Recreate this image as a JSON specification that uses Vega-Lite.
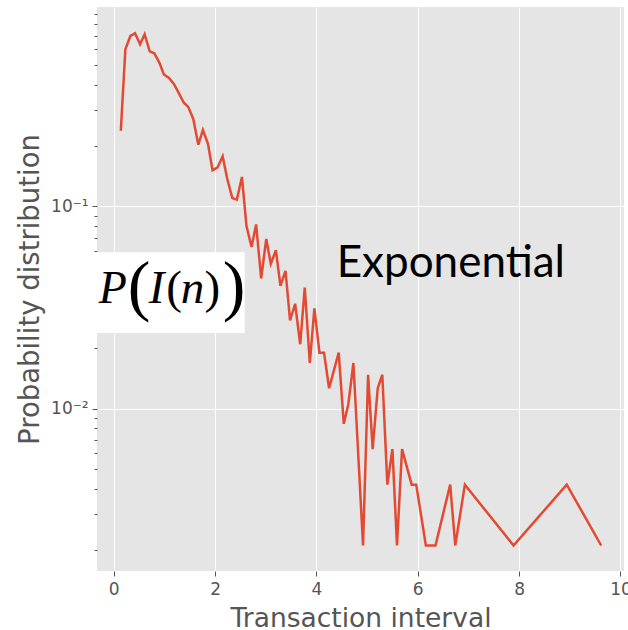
{
  "$schema": "https://vega.github.io/schema/vega-lite/v6.json",
  "width": 527,
  "height": 564,
  "autosize": {"type": "none"},
  "padding": {"left": 97, "top": 7, "right": 4, "bottom": 59},
  "background": "white",
  "config": {"view": {"fill": "#E5E5E5", "stroke": null}},
  "layer": [
    {
      "data": {"values": [
        {"interval": 0.14, "probability": 0.237},
        {"interval": 0.23, "probability": 0.600},
        {"interval": 0.33, "probability": 0.698},
        {"interval": 0.42, "probability": 0.719},
        {"interval": 0.52, "probability": 0.635},
        {"interval": 0.61, "probability": 0.711},
        {"interval": 0.71, "probability": 0.586},
        {"interval": 0.80, "probability": 0.573},
        {"interval": 0.90, "probability": 0.515},
        {"interval": 0.99, "probability": 0.450},
        {"interval": 1.09, "probability": 0.432},
        {"interval": 1.19, "probability": 0.403},
        {"interval": 1.28, "probability": 0.366},
        {"interval": 1.38, "probability": 0.327},
        {"interval": 1.47, "probability": 0.311},
        {"interval": 1.57, "probability": 0.271},
        {"interval": 1.67, "probability": 0.202},
        {"interval": 1.76, "probability": 0.239},
        {"interval": 1.86, "probability": 0.204},
        {"interval": 1.95, "probability": 0.151},
        {"interval": 2.05, "probability": 0.156},
        {"interval": 2.15, "probability": 0.177},
        {"interval": 2.24, "probability": 0.137},
        {"interval": 2.34, "probability": 0.110},
        {"interval": 2.43, "probability": 0.108},
        {"interval": 2.53, "probability": 0.140},
        {"interval": 2.62, "probability": 0.080},
        {"interval": 2.72, "probability": 0.063},
        {"interval": 2.81, "probability": 0.0815},
        {"interval": 2.91, "probability": 0.044},
        {"interval": 3.01, "probability": 0.069},
        {"interval": 3.10, "probability": 0.052},
        {"interval": 3.20, "probability": 0.0607},
        {"interval": 3.29, "probability": 0.0405},
        {"interval": 3.39, "probability": 0.048},
        {"interval": 3.48, "probability": 0.0273},
        {"interval": 3.58, "probability": 0.033},
        {"interval": 3.68, "probability": 0.0208},
        {"interval": 3.77, "probability": 0.0397},
        {"interval": 3.87, "probability": 0.0168},
        {"interval": 3.96, "probability": 0.0313},
        {"interval": 4.06, "probability": 0.0189},
        {"interval": 4.15, "probability": 0.0189},
        {"interval": 4.25, "probability": 0.0126},
        {"interval": 4.44, "probability": 0.0189},
        {"interval": 4.54, "probability": 0.0084},
        {"interval": 4.63, "probability": 0.0105},
        {"interval": 4.73, "probability": 0.0168},
        {"interval": 4.92, "probability": 0.0021},
        {"interval": 5.02, "probability": 0.0147},
        {"interval": 5.11, "probability": 0.0063},
        {"interval": 5.21, "probability": 0.0126},
        {"interval": 5.30, "probability": 0.0147},
        {"interval": 5.40, "probability": 0.0042},
        {"interval": 5.50, "probability": 0.0063},
        {"interval": 5.59, "probability": 0.0021},
        {"interval": 5.69, "probability": 0.0063},
        {"interval": 5.88, "probability": 0.0042},
        {"interval": 5.97, "probability": 0.0042},
        {"interval": 6.16, "probability": 0.0021},
        {"interval": 6.35, "probability": 0.0021},
        {"interval": 6.64, "probability": 0.0042},
        {"interval": 6.74, "probability": 0.0021},
        {"interval": 6.93, "probability": 0.0042},
        {"interval": 7.89, "probability": 0.0021},
        {"interval": 8.94, "probability": 0.0042},
        {"interval": 9.62, "probability": 0.0021}
      ]},
      "mark": {"type": "line", "color": "#E24A33", "strokeWidth": 2.5},
      "encoding": {
        "x": {
          "field": "interval", "type": "quantitative",
          "scale": {"domain": [-0.33, 10.07], "nice": false, "zero": false},
          "axis": {
            "values": [0, 2, 4, 6, 8, 10], "format": "d",
            "domain": false, "grid": true, "gridColor": "white", "gridWidth": 1,
            "tickColor": "#555555", "tickSize": 5, "tickWidth": 1,
            "labelFont": "DejaVu Sans", "labelFontSize": 17, "labelColor": "#555555",
            "labelPadding": 5, "labelFlush": false, "labelOverlap": false,
            "title": "Transaction interval", "titleFont": "DejaVu Sans", "titleFontSize": 26.5,
            "titleFontWeight": "normal", "titleColor": "#555555", "titleY": 55, "titleBaseline": "alphabetic"
          }
        },
        "y": {
          "field": "probability", "type": "quantitative",
          "scale": {"type": "log", "domain": [0.0015704, 0.97051], "nice": false},
          "axis": {
            "values": [0.002, 0.003, 0.004, 0.005, 0.006, 0.007, 0.008, 0.009, 0.01, 0.02, 0.03, 0.04, 0.05, 0.06, 0.07, 0.08, 0.09, 0.1, 0.2, 0.3, 0.4, 0.5, 0.6, 0.7, 0.8, 0.9],
            "labelExpr": "datum.value == 0.1 ? '10⁻¹' : (datum.value == 0.01 ? '10⁻²' : '')",
            "domain": false, "grid": true, "gridColor": "white", "gridWidth": 1,
            "gridOpacity": {"condition": {"test": "datum.value == 0.1 || datum.value == 0.01", "value": 1}, "value": 0},
            "tickSize": {"condition": {"test": "datum.value == 0.1 || datum.value == 0.01", "value": 5}, "value": 3},
            "tickColor": "#555555", "tickWidth": 1,
            "labelFont": "DejaVu Sans", "labelFontSize": 17, "labelColor": "#555555",
            "labelPadding": 4, "labelOverlap": false,
            "title": "Probability distribution", "titleFont": "DejaVu Sans", "titleFontSize": 27.5,
            "titleFontWeight": "normal", "titleColor": "#555555", "titleX": -59, "titleBaseline": "alphabetic"
          }
        }
      }
    },
    {
      "data": {"values": [{}]},
      "mark": {"type": "rect", "color": "white", "opacity": 1},
      "encoding": {
        "x": {"datum": -0.7, "type": "quantitative"},
        "x2": {"datum": 2.585},
        "y": {"datum": 0.0593, "type": "quantitative"},
        "y2": {"datum": 0.02362}
      }
    },
    {
      "data": {"values": [{}]},
      "mark": {"type": "text", "text": "P", "font": "Liberation Serif", "fontStyle": "italic", "fontSize": 46, "align": "left", "baseline": "alphabetic", "color": "black"},
      "encoding": {"x": {"datum": -0.296, "type": "quantitative"}, "y": {"datum": 0.03322, "type": "quantitative"}}
    },
    {
      "data": {"values": [{}]},
      "mark": {"type": "text", "text": "(", "font": "Liberation Serif", "fontSize": 68, "align": "left", "baseline": "alphabetic", "color": "black"},
      "encoding": {"x": {"datum": 0.276, "type": "quantitative"}, "y": {"datum": 0.03139, "type": "quantitative"}}
    },
    {
      "data": {"values": [{}]},
      "mark": {"type": "text", "text": "I", "font": "Liberation Serif", "fontStyle": "italic", "fontSize": 47, "align": "left", "baseline": "alphabetic", "color": "black"},
      "encoding": {"x": {"datum": 0.69, "type": "quantitative"}, "y": {"datum": 0.03322, "type": "quantitative"}}
    },
    {
      "data": {"values": [{}]},
      "mark": {"type": "text", "text": "(", "font": "Liberation Serif", "fontSize": 47, "align": "left", "baseline": "alphabetic", "color": "black"},
      "encoding": {"x": {"datum": 1.035, "type": "quantitative"}, "y": {"datum": 0.03322, "type": "quantitative"}}
    },
    {
      "data": {"values": [{}]},
      "mark": {"type": "text", "text": "n", "font": "Liberation Serif", "fontStyle": "italic", "fontSize": 47, "align": "left", "baseline": "alphabetic", "color": "black"},
      "encoding": {"x": {"datum": 1.321, "type": "quantitative"}, "y": {"datum": 0.03322, "type": "quantitative"}}
    },
    {
      "data": {"values": [{}]},
      "mark": {"type": "text", "text": ")", "font": "Liberation Serif", "fontSize": 47, "align": "left", "baseline": "alphabetic", "color": "black"},
      "encoding": {"x": {"datum": 1.789, "type": "quantitative"}, "y": {"datum": 0.03322, "type": "quantitative"}}
    },
    {
      "data": {"values": [{}]},
      "mark": {"type": "text", "text": ")", "font": "Liberation Serif", "fontSize": 68, "align": "left", "baseline": "alphabetic", "color": "black"},
      "encoding": {"x": {"datum": 2.150, "type": "quantitative"}, "y": {"datum": 0.03139, "type": "quantitative"}}
    },
    {
      "data": {"values": [{}]},
      "mark": {"type": "text", "text": "Exponential", "font": "Lato", "fontSize": 44, "align": "left", "baseline": "alphabetic", "color": "black"},
      "encoding": {"x": {"datum": 4.40, "type": "quantitative"}, "y": {"datum": 0.04464, "type": "quantitative"}}
    }
  ]
}
